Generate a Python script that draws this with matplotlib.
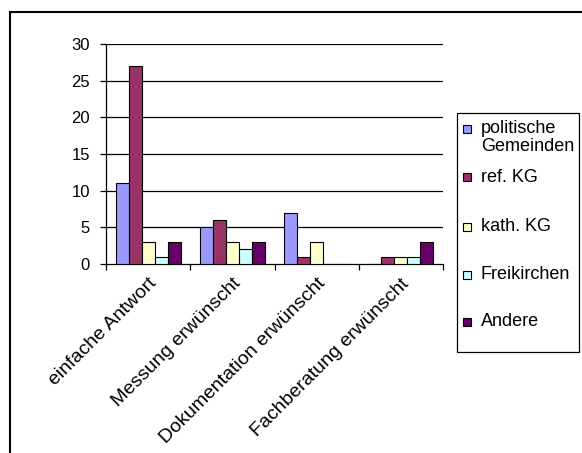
import matplotlib
matplotlib.use("Agg")
import matplotlib.pyplot as plt
import numpy as np
from matplotlib.patches import Rectangle
from matplotlib.transforms import ScaledTranslation

categories = ["einfache Antwort", "Messung erwünscht", "Dokumentation erwünscht", "Fachberatung erwünscht"]
series_names = ["politische\nGemeinden", "ref. KG", "kath. KG", "Freikirchen", "Andere"]
politische = [11, 5, 7, 0]
ref_kg = [27, 6, 1, 1]
kath_kg = [3, 3, 3, 1]
freikirchen = [1, 2, 0, 1]
andere = [3, 3, 0, 3]
series_values = [politische, ref_kg, kath_kg, freikirchen, andere]
colors = ["#9999FF", "#993366", "#FFFFCC", "#CCFFFF", "#660066"]
yticks = [0, 5, 10, 15, 20, 25, 30]

plt.rcParams['font.family'] = ['Liberation Sans', 'DejaVu Sans']
W, H = 582, 453
fig = plt.figure(figsize=(W / 100, H / 100), dpi=100)
fig.patch.set_facecolor("white")


def fx(px):
    return px / W


def fy(py):
    return 1 - py / H


# outer chart frame (right and bottom cut off)
fig.patches.append(Rectangle((fx(9.5), -0.1), 1.2, fy(11.5) + 0.1, transform=fig.transFigure,
                             fill=False, edgecolor="black", linewidth=1.5, zorder=0))

ax = fig.add_axes([fx(106), fy(264), fx(443 - 106), (264 - 44) / H])
n_cat = len(categories)
n_ser = len(series_values)
bw = 1 / 6.5
x = np.arange(n_cat)
for i, (vals, c) in enumerate(zip(series_values, colors)):
    offs = (i - (n_ser - 1) / 2) * bw
    ax.bar(x + offs, vals, width=bw, color=c, edgecolor="black", linewidth=0.8, zorder=3)

ax.set_xlim(-0.5, n_cat - 0.5)
ax.set_ylim(0, 30)
ax.set_yticks(yticks)
ax.set_yticklabels([str(v) for v in yticks], fontsize=12)
for y in yticks[1:]:
    ax.axhline(y, color="black", linewidth=0.9, zorder=1)
ax.set_xticks(np.arange(-0.5, n_cat, 1.0))
ax.set_xticklabels([])
ax.set_xticks(x, minor=True)
ax.set_xticklabels(categories, minor=True, rotation=45, ha="right", rotation_mode="anchor", fontsize=14)
for lbl in ax.get_xticklabels(minor=True):
    lbl.set_transform(lbl.get_transform() + ScaledTranslation(4 / 100, 0, fig.dpi_scale_trans))
ax.tick_params(axis="x", which="minor", length=0, pad=8)
ax.tick_params(axis="x", which="major", length=4, width=0.9, direction="out")
ax.tick_params(axis="y", length=4.5, width=0.9, direction="out", pad=7)
for s in ["top", "right"]:
    ax.spines[s].set_visible(False)
for s in ["left", "bottom"]:
    ax.spines[s].set_linewidth(0.9)

# legend (drawn manually to match the layout)
fig.patches.append(Rectangle((fx(457), fy(352)), fx(579 - 457), (352 - 113) / H, transform=fig.transFigure,
                             fill=True, facecolor="white", edgecolor="black", linewidth=0.9, zorder=5))
leg_y = [129, 177.5, 227, 275, 322]
for name, c, yy in zip(series_names, colors, leg_y):
    fig.patches.append(Rectangle((fx(462.7), fy(yy + 4)), fx(8), 8 / H, transform=fig.transFigure,
                                 facecolor=c, edgecolor="black", linewidth=0.8, zorder=6))
    fig.text(fx(481), fy(yy - 9), name, fontsize=13, va="top", ha="left",
             linespacing=1.1, zorder=7)

fig.savefig("out.png", dpi=100)
